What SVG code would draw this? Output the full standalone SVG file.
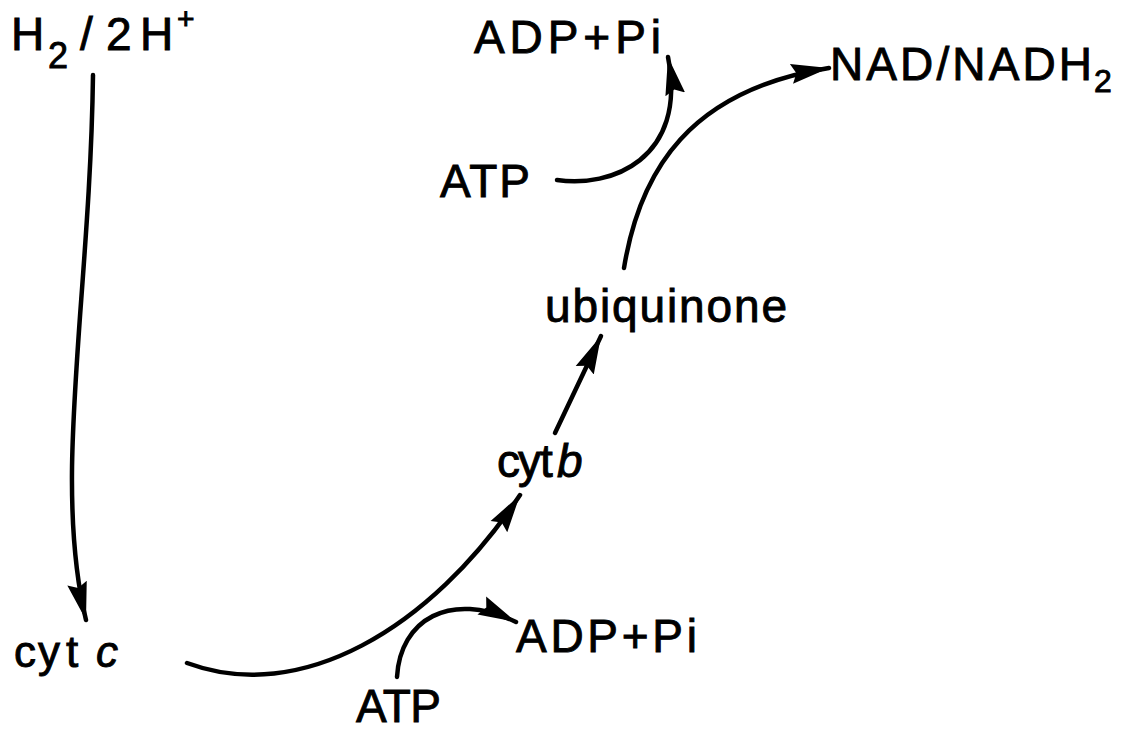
<svg xmlns="http://www.w3.org/2000/svg" width="1122" height="730" viewBox="0 0 1122 730">
  <style>
    .lbl { font-family: "Liberation Sans", Arial, sans-serif; font-size: 46px; fill: #000; stroke: #000; stroke-width: 0.9; }
    .lc { font-size: 44px; }
    .it { font-style: italic; }
    .edge { fill: none; stroke: #000; stroke-width: 4.5; stroke-linecap: round; }
  </style>
  <defs>
    <marker id="arrow" markerUnits="userSpaceOnUse" markerWidth="42" markerHeight="26" refX="38" refY="13" orient="auto">
      <path d="M0,3 L38,13 L0,23 L5,13 Z" fill="#000"/>
    </marker>
  </defs>
  <rect width="1122" height="730" fill="#fff"/>

  <g id="connectors">
    <path class="edge" d="M93,75 C90,300 52,480 86,620" marker-end="url(#arrow)"/>
    <path class="edge" d="M187,663 C300,705 430,630 520,495" marker-end="url(#arrow)"/>
    <path class="edge" d="M555,433 L601,336" marker-end="url(#arrow)"/>
    <path class="edge" d="M624,268 C640,170 690,90 829,68" marker-end="url(#arrow)"/>
    <path class="edge" d="M557,180 C610,188 688,160 668,57" marker-end="url(#arrow)"/>
    <path class="edge" d="M397,677 C400,620 450,590 516,622" marker-end="url(#arrow)"/>
  </g>

  <g id="h2">
    <text class="lbl" y="50"><tspan x="11">H</tspan><tspan x="48" y="68" font-size="36">2</tspan><tspan x="80" y="50">/</tspan><tspan x="106">2</tspan><tspan x="140">H</tspan><tspan x="177" y="29" font-size="30">+</tspan></text>
  </g>
  <g id="cytc">
    <text class="lbl lc" y="667"><tspan x="14">c</tspan><tspan x="38">y</tspan><tspan x="66">t</tspan><tspan class="it" x="96">c</tspan></text>
  </g>
  <g id="cytb">
    <text class="lbl" y="477" font-size="42"><tspan x="497">c</tspan><tspan x="518">y</tspan><tspan x="540">t</tspan><tspan class="it" x="557">b</tspan></text>
  </g>
  <g id="ubiquinone">
    <text class="lbl" x="545" y="322" font-size="43" textLength="242" lengthAdjust="spacing">ubiquinone</text>
  </g>
  <g id="nad">
    <text class="lbl" y="80" font-size="49"><tspan x="830" textLength="262" lengthAdjust="spacing">NAD/NADH</tspan><tspan x="1094" y="92" font-size="32">2</tspan></text>
  </g>
  <g id="atp-top">
    <text class="lbl" x="440" y="197" font-size="47" textLength="90" lengthAdjust="spacing">ATP</text>
  </g>
  <g id="adp-top">
    <text class="lbl" x="474" y="53" textLength="187" lengthAdjust="spacing">ADP+Pi</text>
  </g>
  <g id="atp-bottom">
    <text class="lbl" x="356" y="722" textLength="85" lengthAdjust="spacing">ATP</text>
  </g>
  <g id="adp-bottom">
    <text class="lbl" x="516" y="652" font-size="47" textLength="181" lengthAdjust="spacing">ADP+Pi</text>
  </g>
</svg>
